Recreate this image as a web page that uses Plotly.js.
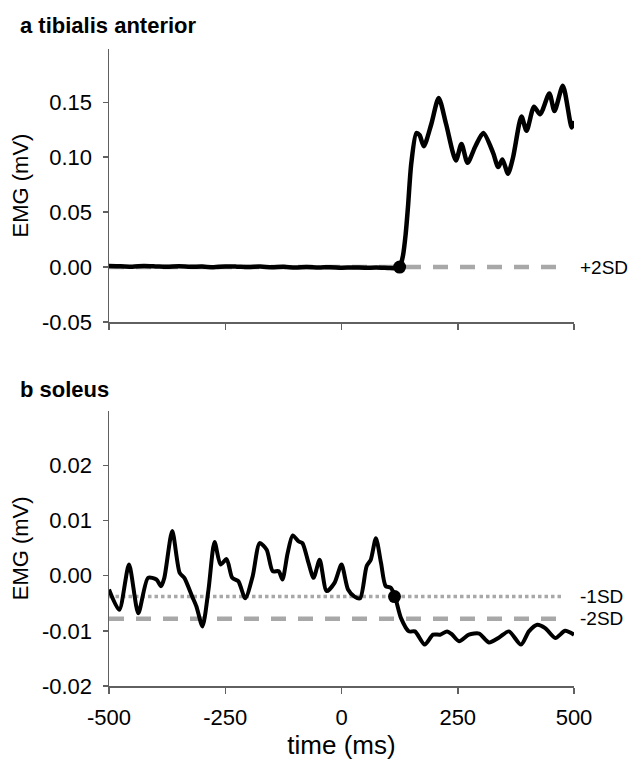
<!DOCTYPE html>
<html>
<head>
<meta charset="utf-8">
<script src="https://cdn.plot.ly/plotly-3.0.1.min.js"></script>
<style>html,body{margin:0;padding:0;background:#fff;}#chart{width:630px;height:760px;}</style>
</head>
<body>
<div id="chart"></div>
<script>
// ---- Data ----
const taTime = [-500,-475,-450,-425,-400,-375,-350,-325,-300,-275,-250,-225,-200,-175,-150,-125,-100,-75,-50,-25,0,25,50,75,100,115,125,
  132,138,143,150,161,168,177,193,209,225,246,258,271,288,305,326,337,346,358,369,387,398,414,427,447,458,476,495,500];
const taEMG = [0.0010,0.0008,0.0004,0.0009,0.0006,0.0002,0.0008,0.0003,0.0005,-0.0002,0.0006,0.0004,0.0000,0.0005,-0.0002,0.0003,-0.0004,0.0001,-0.0004,-0.0001,-0.0005,-0.0003,-0.0006,-0.0004,-0.0008,-0.0010,0.0000,
  0.010,0.030,0.055,0.094,0.122,0.120,0.110,0.130,0.154,0.130,0.097,0.112,0.095,0.110,0.122,0.104,0.091,0.098,0.085,0.100,0.137,0.124,0.146,0.139,0.158,0.142,0.165,0.127,0.133];
const taOnsetTime = [125];
const taOnsetEMG = [0.0];
const taSD2 = 0.0;

const solTime = [-500,-478,-457,-437,-416,-398,-388,-381,-364,-348,-338,-321,-312,-299,-286,-273,-260,-247,-235,-222,-207,-191,-176,-161,-148,-135,-127,-116,-105,-92,-84,-71,-60,-47,-32,-15,0,14,28,40,54,63,74,85,95,106,115,
  128,145,158,179,197,212,227,237,253,274,296,317,339,360,386,403,421,438,460,481,500];
const solEMG = [-0.0025,-0.0062,0.0020,-0.0068,-0.0004,-0.0007,-0.0019,-0.0004,0.0081,0.0005,-0.0004,-0.0038,-0.0056,-0.0092,-0.0025,0.0061,0.0020,0.0030,-0.0004,-0.0010,-0.0041,-0.0001,0.0059,0.0047,0.0008,0.0008,-0.0007,0.0040,0.0073,0.0062,0.0059,0.0023,-0.0004,0.0029,-0.0028,-0.0013,0.0020,-0.0025,-0.0038,-0.0041,0.0017,0.0029,0.0068,0.0023,-0.0019,-0.0022,-0.0038,
  -0.0077,-0.0101,-0.0101,-0.0125,-0.0107,-0.0107,-0.0101,-0.0106,-0.0119,-0.0107,-0.0105,-0.0121,-0.0112,-0.0101,-0.0125,-0.0101,-0.0089,-0.0095,-0.0113,-0.0100,-0.0107];
const solOnsetTime = [114];
const solOnsetEMG = [-0.0038];
const solSD1 = -0.0038;
const solSD2 = -0.0078;

const sdLineTime = [-500, 476];
const xTicks = [-500,-250,0,250,500];
const xTickText = ['-500','-250','0','250','500'];
const taYTicks = [-0.05,0,0.05,0.10,0.15];
const taYTickText = ['-0.05','0.00','0.05','0.10','0.15'];
const solYTicks = [-0.02,-0.01,0,0.01,0.02];
const solYTickText = ['-0.02','-0.01','0.00','0.01','0.02'];

// ---- Styles ----
const FONT = 'Liberation Sans, Arial, Helvetica, sans-serif';
const AX = '#606060';
const SDGRAY = '#a8a8a8';

const traces = [
  {x: sdLineTime, y: [taSD2, taSD2], xaxis:'x', yaxis:'y', mode:'lines',
   line:{color:SDGRAY, width:4.5, dash:'15px,12px'}, hoverinfo:'skip', name:'+2SD'},
  {x: taTime, y: taEMG, xaxis:'x', yaxis:'y', mode:'lines',
   line:{color:'#000', width:4.5, shape:'spline', smoothing:0.7}, name:'tibialis anterior'},
  {x: taOnsetTime, y: taOnsetEMG, xaxis:'x', yaxis:'y', mode:'markers',
   marker:{color:'#000', size:13}, name:'onset'},
  {x: sdLineTime, y: [solSD1, solSD1], xaxis:'x2', yaxis:'y2', mode:'lines',
   line:{color:SDGRAY, width:3.5, dash:'3.5px,3px'}, name:'-1SD'},
  {x: sdLineTime, y: [solSD2, solSD2], xaxis:'x2', yaxis:'y2', mode:'lines',
   line:{color:SDGRAY, width:4.5, dash:'15px,12px'}, name:'-2SD'},
  {x: solTime, y: solEMG, xaxis:'x2', yaxis:'y2', mode:'lines',
   line:{color:'#000', width:4, shape:'spline', smoothing:0.7}, name:'soleus'},
  {x: solOnsetTime, y: solOnsetEMG, xaxis:'x2', yaxis:'y2', mode:'markers',
   marker:{color:'#000', size:13}, name:'onset'}
];

const axCommon = {showline:true, linecolor:AX, linewidth:1.5, ticks:'outside', tickcolor:AX,
  tickwidth:1.5, showgrid:false, zeroline:false, fixedrange:true};

const layout = {
  width:630, height:760, showlegend:false,
  paper_bgcolor:'#fff', plot_bgcolor:'#fff',
  font:{family:FONT, color:'#000', size:22},
  margin:{l:109, r:56, t:49, b:74},
  xaxis: Object.assign({}, axCommon, {domain:[0,1], anchor:'y', range:[-500,500],
    tickvals:xTicks, showticklabels:false, ticklen:6}),
  yaxis: Object.assign({}, axCommon, {domain:[0.5714,1], anchor:'x', range:[-0.05,0.1985],
    tickvals:taYTicks, ticktext:taYTickText, ticklen:5, ticklabelstandoff:6,
    tickfont:{size:22},
    title:{text:'EMG (mV)', font:{size:22}, standoff:7}}),
  xaxis2: Object.assign({}, axCommon, {domain:[0,1], anchor:'y2', range:[-500,500],
    tickvals:xTicks, ticktext:xTickText, ticklen:6, tickfont:{size:22}, ticklabelstandoff:5,
    title:{text:'time (ms)', font:{size:26}, standoff:7}}),
  yaxis2: Object.assign({}, axCommon, {domain:[0,0.4322], anchor:'x2', range:[-0.02,0.0299],
    tickvals:solYTicks, ticktext:solYTickText, ticklen:5, ticklabelstandoff:6,
    tickfont:{size:22},
    title:{text:'EMG (mV)', font:{size:22}, standoff:7}}),
  annotations:[
    {text:'<b>a tibialis anterior</b>', xref:'paper', yref:'paper', x:-0.196, y:1.0, xanchor:'left', yanchor:'middle',
     yshift:24, showarrow:false, font:{size:22}},
    {text:'<b>b soleus</b>', xref:'paper', yref:'paper', x:-0.196, y:0.4322, xanchor:'left', yanchor:'middle',
     yshift:21, showarrow:false, font:{size:22}},
    {text:'+2SD', xref:'paper', yref:'y', x:1.0, y:taSD2, xanchor:'left', yanchor:'middle', xshift:4,
     showarrow:false, font:{size:19}},
    {text:'-1SD', xref:'paper', yref:'y2', x:1.0, y:solSD1, xanchor:'left', yanchor:'middle', xshift:4,
     showarrow:false, font:{size:19}},
    {text:'-2SD', xref:'paper', yref:'y2', x:1.0, y:solSD2, xanchor:'left', yanchor:'middle', xshift:4,
     showarrow:false, font:{size:19}}
  ]
};

Plotly.newPlot('chart', traces, layout, {staticPlot:true, displayModeBar:false});
</script>
</body>
</html>
